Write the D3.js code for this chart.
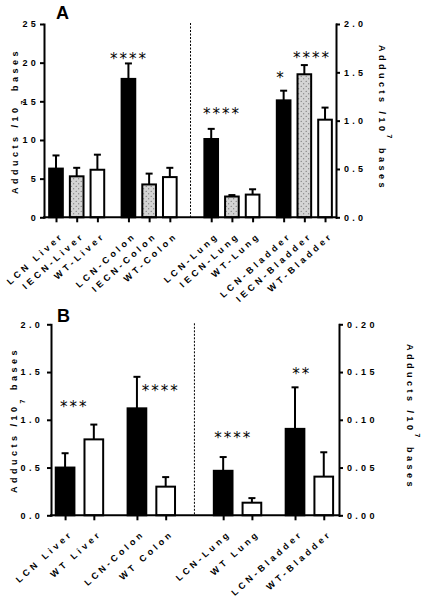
<!DOCTYPE html>
<html><head><meta charset="utf-8">
<script src="https://cdn.jsdelivr.net/npm/d3@7"></script>
<style>body{margin:0;background:#fff}</style>
</head><body><svg id="chart" width="422" height="599"></svg>
<script>
// ---------- Panel A data ----------
const catsA = ["LCN Liver","IECN-Liver","WT-Liver","LCN-Colon","IECN-Colon","WT-Colon",
               "LCN-Lung","IECN-Lung","WT-Lung","LCN-Bladder","IECN-Bladder","WT-Bladder"];
const groupA = [0,0,0,1,1,1,2,2,2,3,3,3];
const typeA  = ["LCN","IECN","WT","LCN","IECN","WT","LCN","IECN","WT","LCN","IECN","WT"];
const axisA  = ["L","L","L","L","L","L","R","R","R","R","R","R"];
const meanA  = [6.3, 5.3, 6.15, 17.9, 4.25, 5.2, 0.81, 0.215, 0.235, 1.21, 1.48, 1.01];
const semA   = [1.7, 1.1, 1.95, 2.0, 1.4, 1.2, 0.105, 0.015, 0.055, 0.10, 0.095, 0.125];
const ticksALeft  = [0, 5, 10, 15, 20, 25];
const ticksARight = [0, 0.5, 1.0, 1.5, 2.0];
const sigA = [
  {label:"****", cat:3,  dx:0.03,  level:20.9, axis:"L"},
  {label:"****", cat:6,  dx:0.52,  level:1.10, axis:"R"},
  {label:"*",    cat:9,  dx:-0.13, level:1.47, axis:"R"},
  {label:"****", cat:10, dx:0.37,  level:1.68, axis:"R"}
];

// ---------- Panel B data ----------
const catsB = ["LCN Liver","WT Liver","LCN-Colon","WT Colon","LCN-Lung","WT Lung","LCN-Bladder","WT-Bladder"];
const groupB = [0,0,1,1,2,2,3,3];
const typeB  = ["LCN","WT","LCN","WT","LCN","WT","LCN","WT"];
const axisB  = ["L","L","L","L","R","R","R","R"];
const meanB  = [0.50, 0.795, 1.12, 0.30, 0.0466, 0.0132, 0.0905, 0.0405];
const semB   = [0.15, 0.155, 0.33, 0.10, 0.0144, 0.0048, 0.0435, 0.0255];
const ticksBLeft  = [0, 0.5, 1.0, 1.5, 2.0];
const ticksBRight = [0, 0.05, 0.10, 0.15, 0.20];
const sigB = [
  {label:"***",  cat:0, dx:0.32,  level:1.17,   axis:"L"},
  {label:"****", cat:3, dx:-0.17, level:1.33,   axis:"L"},
  {label:"****", cat:4, dx:0.35,  level:0.0846, axis:"R"},
  {label:"**",   cat:6, dx:0.23,  level:0.1506, axis:"R"}
];

const FONT = "'Liberation Sans', Arial, sans-serif";
const svg = d3.select("#chart");
svg.append("rect").attr("width",422).attr("height",599).attr("fill","#fff");
const defs = svg.append("defs");
const pat = defs.append("pattern").attr("id","dots").attr("patternUnits","userSpaceOnUse")
  .attr("width",5).attr("height",5);
pat.append("rect").attr("width",5).attr("height",5).attr("fill","#d4d4d4");
pat.append("circle").attr("cx",1.2).attr("cy",1.2).attr("r",0.55).attr("fill","#555");
pat.append("circle").attr("cx",3.7).attr("cy",3.7).attr("r",0.55).attr("fill","#555");
const fillFor = t => t==="LCN" ? "#000" : (t==="IECN" ? "url(#dots)" : "#fff");

function panel(o){
  const g = svg.append("g");
  const slots = o.groups.map((gr,i)=> i + 0.5*gr + (gr>=2 ? 0.5 : 0));
  const x  = d3.scaleLinear().domain(o.slotDomain).range([o.x0, o.x1]);
  const yL = d3.scaleLinear().domain(o.leftDomain).range([o.yBase, o.yTop]);
  const yR = d3.scaleLinear().domain(o.rightDomain).range([o.yBase, o.yTop]);
  const ys = a => a==="L" ? yL : yR;
  const bw = (x(1)-x(0))*o.barFrac;

  // dashed divider
  const split = o.groups.findIndex(d=>d>=2);
  const xd = x((slots[split-1]+slots[split])/2);
  g.append("line").attr("x1",xd).attr("x2",xd).attr("y1",o.yTop-1).attr("y2",o.yBase)
    .attr("stroke","#000").attr("stroke-width",1).attr("stroke-dasharray","2,1.5");

  // bars
  g.selectAll("rect.bar").data(o.means).join("rect").attr("class","bar")
    .attr("x",(d,i)=>x(slots[i])-bw/2)
    .attr("y",(d,i)=>ys(o.axes[i])(d))
    .attr("width",bw)
    .attr("height",(d,i)=>o.yBase-ys(o.axes[i])(d))
    .attr("fill",(d,i)=>fillFor(o.types[i]))
    .attr("stroke","#000").attr("stroke-width",2);

  // error bars (upper)
  const eb = g.selectAll("g.err").data(o.means).join("g").attr("class","err");
  eb.append("line")
    .attr("x1",(d,i)=>x(slots[i])).attr("x2",(d,i)=>x(slots[i]))
    .attr("y1",(d,i)=>ys(o.axes[i])(d)).attr("y2",(d,i)=>ys(o.axes[i])(d+o.sems[i]))
    .attr("stroke","#000").attr("stroke-width",2);
  eb.append("line")
    .attr("x1",(d,i)=>x(slots[i])-3.5).attr("x2",(d,i)=>x(slots[i])+3.5)
    .attr("y1",(d,i)=>ys(o.axes[i])(d+o.sems[i])).attr("y2",(d,i)=>ys(o.axes[i])(d+o.sems[i]))
    .attr("stroke","#000").attr("stroke-width",2);

  // axes
  const styleAxis = sel => {
    sel.select(".domain").attr("stroke-width",2).attr("stroke-linecap","square");
    sel.selectAll(".tick line").attr("stroke-width",2);
    sel.selectAll("text").attr("font-family",FONT).attr("font-weight","bold")
      .attr("font-size",9).attr("letter-spacing",3.3).attr("fill","#000");
  };
  const la = g.append("g").attr("transform",`translate(${o.x0},0)`)
    .call(d3.axisLeft(yL).tickValues(o.ticksL).tickFormat(d3.format(o.fmtL)).tickSize(4).tickSizeOuter(0).tickPadding(o.padL));
  styleAxis(la);
  const ra = g.append("g").attr("transform",`translate(${o.x1},0)`)
    .call(d3.axisRight(yR).tickValues(o.ticksR).tickFormat(d3.format(o.fmtR)).tickSize(4).tickSizeOuter(0).tickPadding(4));
  styleAxis(ra);
  const xa = g.append("g").attr("transform",`translate(0,${o.yBase})`)
    .call(d3.axisBottom(x).tickValues(slots).tickFormat((d,i)=>o.cats[i]).tickSize(5).tickSizeOuter(0));
  styleAxis(xa);
  xa.select(".domain").attr("d",`M${o.x0},0H${o.x1}`);
  xa.selectAll(".tick text").attr("x",0).attr("y",0).attr("dy",0)
    .attr("font-size",9).attr("letter-spacing",3.4)
    .attr("text-anchor","end").attr("transform","translate(8,19) rotate(-42)");

  // significance
  g.selectAll("text.sig").data(o.sig).join("text").attr("class","sig")
    .attr("x",d=>x(slots[d.cat]+d.dx)).attr("y",d=>ys(d.axis)(d.level)+8)
    .attr("text-anchor","middle")
    .attr("font-family","'DejaVu Sans', sans-serif").attr("font-size",15).attr("letter-spacing",2)
    .text(d=>d.label);

  // axis titles
  const title = (tx, ty, rot, supDy) => {
    const t = g.append("text").attr("transform",`translate(${tx},${ty}) rotate(${rot})`)
      .attr("text-anchor","middle").attr("font-family",FONT).attr("font-weight","bold")
      .attr("font-size",9).attr("letter-spacing",3.5).attr("fill","#000");
    t.append("tspan").text("Adducts /10");
    t.append("tspan").attr("dy",supDy).attr("font-size",7).text("7");
    t.append("tspan").attr("dy",-supDy).text(" bases");
  };
  title(o.titleLX, o.titleLY, -90, o.supL);
  title(o.titleRX, o.titleRY, 90, o.supR);

  // panel letter
  g.append("text").attr("x",o.letterX).attr("y",o.letterY).attr("font-family",FONT)
    .attr("font-weight","bold").attr("font-size",18).text(o.letter);
}

panel({cats:catsA, groups:groupA, types:typeA, axes:axisA, means:meanA, sems:semA, sig:sigA,
  x0:44, x1:336, yBase:217.3, yTop:24, slotDomain:[-0.58,13.53], barFrac:0.66,
  leftDomain:[0,25], rightDomain:[0,2], ticksL:ticksALeft, ticksR:ticksARight,
  fmtL:"d", fmtR:".1f", padL:1,
  titleLX:18, titleLY:121, titleRX:379, titleRY:118, supL:8, supR:-8,
  letter:"A", letterX:56, letterY:18.5});

panel({cats:catsB, groups:groupB, types:typeB, axes:axisB, means:meanB, sems:semB, sig:sigB,
  x0:51, x1:339, yBase:515.3, yTop:324.3, slotDomain:[-0.49,9.53], barFrac:0.65,
  leftDomain:[0,2], rightDomain:[0,0.2], ticksL:ticksBLeft, ticksR:ticksBRight,
  fmtL:".1f", fmtR:".2f", padL:4,
  titleLX:17, titleLY:420, titleRX:407, titleRY:417, supL:8, supR:-8,
  letter:"B", letterX:57, letterY:322});
</script></body></html>
